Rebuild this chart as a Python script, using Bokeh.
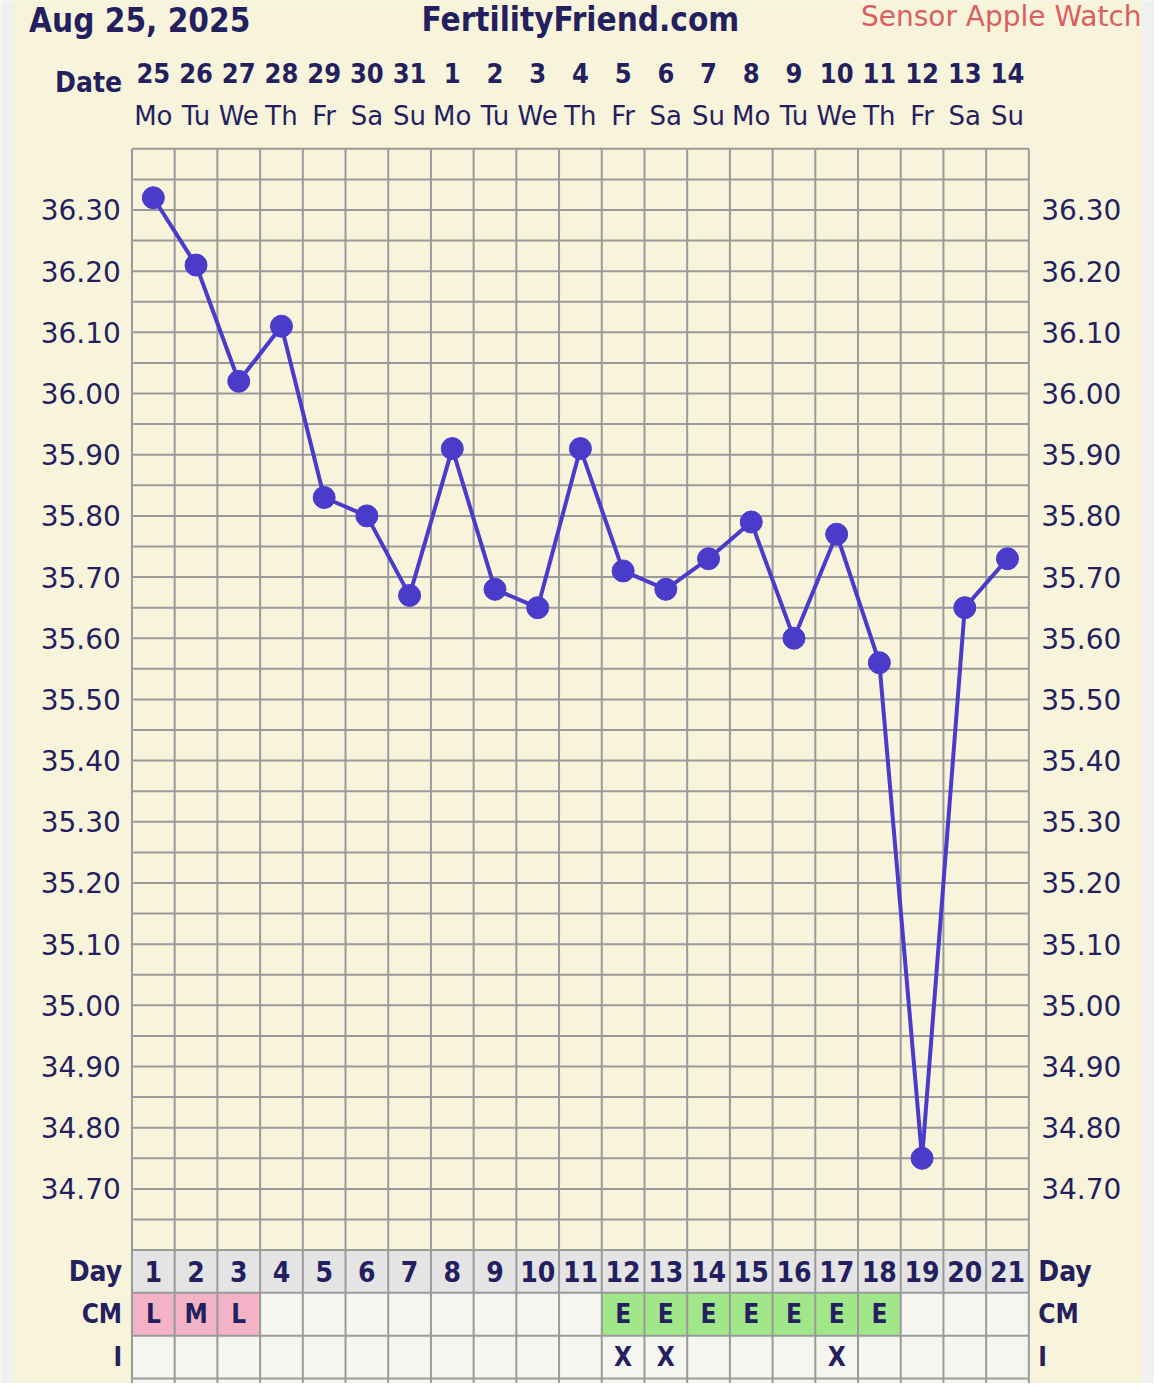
import numpy as np
from bokeh.plotting import figure
from bokeh.models import Range1d
from bokeh.core.properties import value
from bokeh.embed import file_html
from bokeh.resources import INLINE

# ---------------- data ----------------
days = list(range(1, 22))
dates = ["25", "26", "27", "28", "29", "30", "31", "1", "2", "3", "4",
         "5", "6", "7", "8", "9", "10", "11", "12", "13", "14"]
weekdays = ["Mo", "Tu", "We", "Th", "Fr", "Sa", "Su", "Mo", "Tu", "We", "Th",
            "Fr", "Sa", "Su", "Mo", "Tu", "We", "Th", "Fr", "Sa", "Su"]
temps = [36.32, 36.21, 36.02, 36.11, 35.83, 35.80, 35.67, 35.91, 35.68, 35.65, 35.91,
         35.71, 35.68, 35.73, 35.79, 35.60, 35.77, 35.56, 34.75, 35.65, 35.73]
cm = ["L", "M", "L", "", "", "", "", "", "", "", "",
      "E", "E", "E", "E", "E", "E", "E", "", "", ""]
intercourse = ["", "", "", "", "", "", "", "", "", "", "",
               "X", "X", "", "", "", "X", "", "", "", ""]
temp_ticks = [36.30, 36.20, 36.10, 36.00, 35.90, 35.80, 35.70, 35.60, 35.50,
              35.40, 35.30, 35.20, 35.10, 35.00, 34.90, 34.80, 34.70]
title_left = "Aug 25, 2025"
title_center = "FertilityFriend.com"
title_right = "Sensor Apple Watch"
date_label = "Date"
row_labels = ["Day", "CM", "I"]

# ---------------- styles ----------------
NAVY = "#241f5e"
LINE = "#4a3bcb"
GRIDC = "#9a9a9a"
CREAM = "#f8f4dc"
SIDE = "#f0f0f0"
DAYROW = "#e4e4e4"
CELL = "#f6f6f1"
PINK = "#f3b2c6"
GREEN = "#a2e68a"
RED = "#d8605f"
FONT = value("DejaVu Sans")
BFONT = value("DejaVu Sans Condensed")
cm_colors = {"L": PINK, "M": PINK, "E": GREEN, "": CELL}

T_TOP, T_BOT = 36.40, 34.60
ROW_TOP = (1264 - 150) / 43.3   # top of temperature grid in row units

p = figure(width=1154, height=1383,
           x_range=Range1d(-2.5785, 24.442), y_range=Range1d(34.3819, 36.6424),
           output_backend="svg", toolbar_location=None, min_border=0,
           x_axis_type=None, y_axis_type=None)
p.extra_y_ranges = {"rows": Range1d(-3.118, 29.192)}
p.grid.visible = False
p.outline_line_color = None
p.background_fill_color = SIDE
p.border_fill_color = SIDE

# cream page
p.quad(left=[-2.278], right=[24.142], top=[30], bottom=[-5], y_range_name="rows",
       fill_color=CREAM, line_color=None)

# table cells
lefts = [d - 0.5 for d in days]
rights = [d + 0.5 for d in days]
n = len(days)
p.quad(left=lefts, right=rights, top=[0] * n, bottom=[-1] * n, y_range_name="rows",
       fill_color=DAYROW, line_color=None)
p.quad(left=lefts, right=rights, top=[-1] * n, bottom=[-2] * n, y_range_name="rows",
       fill_color=[cm_colors[c] for c in cm], line_color=None)
p.quad(left=lefts, right=rights, top=[-2] * n, bottom=[-4] * n, y_range_name="rows",
       fill_color=CELL, line_color=None)

# grid: horizontal temperature lines
hl = np.round(np.arange(T_BOT, T_TOP + 0.001, 0.05), 2)
p.segment(x0=[0.5] * len(hl), x1=[21.5] * len(hl), y0=hl, y1=hl,
          line_color=GRIDC, line_width=2)
# table horizontal lines
rl = [0, -1, -2, -3]
p.segment(x0=[0.5] * 4, x1=[21.5] * 4, y0=rl, y1=rl, y_range_name="rows",
          line_color=GRIDC, line_width=2)
# vertical lines
vx = [d - 0.5 for d in days] + [21.5]
p.segment(x0=vx, x1=vx, y0=[ROW_TOP] * len(vx), y1=[-5] * len(vx), y_range_name="rows",
          line_color=GRIDC, line_width=2)

# data line
p.line(days, temps, line_color=LINE, line_width=4)
p.scatter(days, temps, size=22, fill_color=LINE, line_color=LINE)

# temperature labels
tick_txt = [f"{t:.2f}" for t in temp_ticks]
p.text(x=[0.24] * len(temp_ticks), y=temp_ticks, text=tick_txt, text_align="right",
       text_baseline="middle", text_font=FONT, text_font_size="28px", text_color=NAVY)
p.text(x=[21.79] * len(temp_ticks), y=temp_ticks, text=tick_txt, text_align="left",
       text_baseline="middle", text_font=FONT, text_font_size="28px", text_color=NAVY)

# header: dates & weekdays
p.text(x=days, y=[27.5] * n, text=dates, y_range_name="rows", text_align="center",
       text_baseline="middle", text_font=BFONT, text_font_style="bold",
       text_font_size="27px", text_color=NAVY)
p.text(x=days, y=[26.5] * n, text=weekdays, y_range_name="rows", text_align="center",
       text_baseline="middle", text_font=FONT, text_font_size="26px", text_color=NAVY)
p.text(x=[0.27], y=[27.28], text=[date_label], y_range_name="rows", text_align="right",
       text_baseline="middle", text_font=BFONT, text_font_style="bold",
       text_font_size="28px", text_color=NAVY)

# titles
p.text(x=[-1.91], y=[28.72], text=[title_left], y_range_name="rows", text_align="left",
       text_baseline="middle", text_font=BFONT, text_font_style="bold",
       text_font_size="33px", text_color=NAVY)
p.text(x=[11], y=[28.74], text=[title_center], y_range_name="rows", text_align="center",
       text_baseline="middle", text_font=BFONT, text_font_style="bold",
       text_font_size="33px", text_color=NAVY)
p.text(x=[24.14], y=[28.82], text=[title_right], y_range_name="rows", text_align="right",
       text_baseline="middle", text_font=FONT, text_font_size="28px", text_color=RED)

# table contents
p.text(x=days, y=[-0.5] * n, text=[str(d) for d in days], y_range_name="rows",
       text_align="center", text_baseline="middle", text_font=BFONT,
       text_font_style="bold", text_font_size="28px", text_color=NAVY)
p.text(x=days, y=[-1.5] * n, text=cm, y_range_name="rows",
       text_align="center", text_baseline="middle", text_font=BFONT,
       text_font_style="bold", text_font_size="26px", text_color=NAVY)
p.text(x=days, y=[-2.5] * n, text=intercourse, y_range_name="rows",
       text_align="center", text_baseline="middle", text_font=BFONT,
       text_font_style="bold", text_font_size="26px", text_color=NAVY)

# row labels left & right
ry = [-0.5, -1.5, -2.5]
rsz = ["28px", "26px", "26px"]
for lab, yy, sz in zip(row_labels, ry, rsz):
    p.text(x=[0.27], y=[yy], text=[lab], y_range_name="rows", text_align="right",
           text_baseline="middle", text_font=BFONT, text_font_style="bold",
           text_font_size=sz, text_color=NAVY)
    p.text(x=[21.72], y=[yy], text=[lab], y_range_name="rows", text_align="left",
           text_baseline="middle", text_font=BFONT, text_font_style="bold",
           text_font_size=sz, text_color=NAVY)

open("out.html", "w").write(file_html(p, INLINE))
